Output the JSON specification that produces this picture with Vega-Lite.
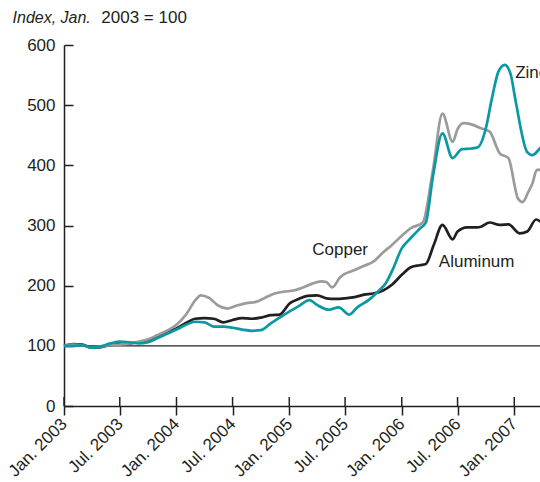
{
  "$schema": "https://vega.github.io/schema/vega-lite/v6.json",
  "width": 478,
  "height": 361,
  "autosize": "none",
  "padding": {"left": 64, "top": 45, "right": 0, "bottom": 76},
  "background": "white",
  "config": {
    "view": {"stroke": null},
    "font": "Liberation Sans",
    "axis": {"labelFont": "Liberation Sans", "labelColor": "#231f20", "labelFontSize": 17, "domainColor": "#231f20", "tickColor": "#231f20", "grid": false, "title": null, "domainWidth": 1.5, "tickWidth": 1.5}
  },
  "datasets": {
    "prices": [
      {"series": "Aluminum", "date": "2003-01-01", "value": 100},
      {"series": "Aluminum", "date": "2003-02-01", "value": 103},
      {"series": "Aluminum", "date": "2003-03-01", "value": 102},
      {"series": "Aluminum", "date": "2003-04-01", "value": 97},
      {"series": "Aluminum", "date": "2003-05-01", "value": 98},
      {"series": "Aluminum", "date": "2003-06-01", "value": 101},
      {"series": "Aluminum", "date": "2003-07-01", "value": 103},
      {"series": "Aluminum", "date": "2003-08-01", "value": 104},
      {"series": "Aluminum", "date": "2003-09-01", "value": 106},
      {"series": "Aluminum", "date": "2003-10-01", "value": 110},
      {"series": "Aluminum", "date": "2003-11-01", "value": 117},
      {"series": "Aluminum", "date": "2003-12-01", "value": 123},
      {"series": "Aluminum", "date": "2004-01-01", "value": 129},
      {"series": "Aluminum", "date": "2004-02-01", "value": 138},
      {"series": "Aluminum", "date": "2004-03-01", "value": 145},
      {"series": "Aluminum", "date": "2004-04-01", "value": 146},
      {"series": "Aluminum", "date": "2004-05-01", "value": 145},
      {"series": "Aluminum", "date": "2004-06-01", "value": 139},
      {"series": "Aluminum", "date": "2004-07-01", "value": 143},
      {"series": "Aluminum", "date": "2004-08-01", "value": 146},
      {"series": "Aluminum", "date": "2004-09-01", "value": 145},
      {"series": "Aluminum", "date": "2004-10-01", "value": 147},
      {"series": "Aluminum", "date": "2004-11-01", "value": 151},
      {"series": "Aluminum", "date": "2004-12-01", "value": 152},
      {"series": "Aluminum", "date": "2005-01-01", "value": 170},
      {"series": "Aluminum", "date": "2005-02-01", "value": 178},
      {"series": "Aluminum", "date": "2005-03-01", "value": 183},
      {"series": "Aluminum", "date": "2005-04-01", "value": 184},
      {"series": "Aluminum", "date": "2005-05-01", "value": 179},
      {"series": "Aluminum", "date": "2005-06-01", "value": 178},
      {"series": "Aluminum", "date": "2005-07-01", "value": 179},
      {"series": "Aluminum", "date": "2005-08-01", "value": 181},
      {"series": "Aluminum", "date": "2005-09-01", "value": 185},
      {"series": "Aluminum", "date": "2005-10-01", "value": 187},
      {"series": "Aluminum", "date": "2005-11-01", "value": 192},
      {"series": "Aluminum", "date": "2005-12-01", "value": 202},
      {"series": "Aluminum", "date": "2006-01-01", "value": 218},
      {"series": "Aluminum", "date": "2006-02-01", "value": 231},
      {"series": "Aluminum", "date": "2006-03-01", "value": 234},
      {"series": "Aluminum", "date": "2006-03-20", "value": 236},
      {"series": "Aluminum", "date": "2006-04-15", "value": 268},
      {"series": "Aluminum", "date": "2006-05-13", "value": 301},
      {"series": "Aluminum", "date": "2006-06-15", "value": 277},
      {"series": "Aluminum", "date": "2006-07-01", "value": 290},
      {"series": "Aluminum", "date": "2006-08-01", "value": 297},
      {"series": "Aluminum", "date": "2006-09-01", "value": 297},
      {"series": "Aluminum", "date": "2006-09-15", "value": 298},
      {"series": "Aluminum", "date": "2006-10-13", "value": 305},
      {"series": "Aluminum", "date": "2006-11-15", "value": 301},
      {"series": "Aluminum", "date": "2006-12-13", "value": 302},
      {"series": "Aluminum", "date": "2007-01-19", "value": 287},
      {"series": "Aluminum", "date": "2007-02-12", "value": 290},
      {"series": "Aluminum", "date": "2007-03-13", "value": 310},
      {"series": "Aluminum", "date": "2007-04-01", "value": 304},
      {"series": "Copper", "date": "2003-01-01", "value": 100},
      {"series": "Copper", "date": "2003-02-01", "value": 102},
      {"series": "Copper", "date": "2003-03-01", "value": 101},
      {"series": "Copper", "date": "2003-04-01", "value": 97},
      {"series": "Copper", "date": "2003-05-01", "value": 99},
      {"series": "Copper", "date": "2003-06-01", "value": 101},
      {"series": "Copper", "date": "2003-07-01", "value": 102},
      {"series": "Copper", "date": "2003-08-01", "value": 104},
      {"series": "Copper", "date": "2003-09-01", "value": 107},
      {"series": "Copper", "date": "2003-10-01", "value": 111},
      {"series": "Copper", "date": "2003-11-01", "value": 118},
      {"series": "Copper", "date": "2003-12-01", "value": 125},
      {"series": "Copper", "date": "2004-01-01", "value": 135},
      {"series": "Copper", "date": "2004-02-01", "value": 152},
      {"series": "Copper", "date": "2004-03-01", "value": 175},
      {"series": "Copper", "date": "2004-03-20", "value": 184},
      {"series": "Copper", "date": "2004-04-15", "value": 180},
      {"series": "Copper", "date": "2004-05-15", "value": 167},
      {"series": "Copper", "date": "2004-06-15", "value": 162},
      {"series": "Copper", "date": "2004-07-15", "value": 167},
      {"series": "Copper", "date": "2004-08-15", "value": 171},
      {"series": "Copper", "date": "2004-09-15", "value": 173},
      {"series": "Copper", "date": "2004-10-15", "value": 180},
      {"series": "Copper", "date": "2004-11-15", "value": 187},
      {"series": "Copper", "date": "2004-12-15", "value": 190},
      {"series": "Copper", "date": "2005-01-15", "value": 192},
      {"series": "Copper", "date": "2005-02-15", "value": 197},
      {"series": "Copper", "date": "2005-03-15", "value": 203},
      {"series": "Copper", "date": "2005-04-15", "value": 207},
      {"series": "Copper", "date": "2005-05-01", "value": 206},
      {"series": "Copper", "date": "2005-05-20", "value": 197},
      {"series": "Copper", "date": "2005-06-15", "value": 214},
      {"series": "Copper", "date": "2005-08-01", "value": 226},
      {"series": "Copper", "date": "2005-09-01", "value": 233},
      {"series": "Copper", "date": "2005-10-01", "value": 240},
      {"series": "Copper", "date": "2005-11-01", "value": 255},
      {"series": "Copper", "date": "2005-12-01", "value": 268},
      {"series": "Copper", "date": "2006-01-01", "value": 283},
      {"series": "Copper", "date": "2006-02-01", "value": 296},
      {"series": "Copper", "date": "2006-03-10", "value": 305},
      {"series": "Copper", "date": "2006-04-12", "value": 392},
      {"series": "Copper", "date": "2006-05-13", "value": 486},
      {"series": "Copper", "date": "2006-06-15", "value": 439},
      {"series": "Copper", "date": "2006-07-01", "value": 460},
      {"series": "Copper", "date": "2006-07-20", "value": 470},
      {"series": "Copper", "date": "2006-08-15", "value": 468},
      {"series": "Copper", "date": "2006-09-13", "value": 462},
      {"series": "Copper", "date": "2006-10-13", "value": 456},
      {"series": "Copper", "date": "2006-11-15", "value": 420},
      {"series": "Copper", "date": "2006-12-13", "value": 412},
      {"series": "Copper", "date": "2007-01-13", "value": 345},
      {"series": "Copper", "date": "2007-01-28", "value": 339},
      {"series": "Copper", "date": "2007-02-15", "value": 355},
      {"series": "Copper", "date": "2007-03-01", "value": 370},
      {"series": "Copper", "date": "2007-03-15", "value": 392},
      {"series": "Copper", "date": "2007-04-01", "value": 393},
      {"series": "Zinc", "date": "2003-01-01", "value": 100},
      {"series": "Zinc", "date": "2003-02-01", "value": 100},
      {"series": "Zinc", "date": "2003-03-01", "value": 101},
      {"series": "Zinc", "date": "2003-04-01", "value": 97},
      {"series": "Zinc", "date": "2003-05-01", "value": 99},
      {"series": "Zinc", "date": "2003-06-01", "value": 104},
      {"series": "Zinc", "date": "2003-07-01", "value": 107},
      {"series": "Zinc", "date": "2003-08-01", "value": 106},
      {"series": "Zinc", "date": "2003-09-01", "value": 104},
      {"series": "Zinc", "date": "2003-10-01", "value": 106},
      {"series": "Zinc", "date": "2003-11-01", "value": 113},
      {"series": "Zinc", "date": "2003-12-01", "value": 120},
      {"series": "Zinc", "date": "2004-01-01", "value": 127},
      {"series": "Zinc", "date": "2004-02-01", "value": 135},
      {"series": "Zinc", "date": "2004-03-01", "value": 140},
      {"series": "Zinc", "date": "2004-04-01", "value": 139},
      {"series": "Zinc", "date": "2004-05-01", "value": 132},
      {"series": "Zinc", "date": "2004-06-01", "value": 132},
      {"series": "Zinc", "date": "2004-07-01", "value": 130},
      {"series": "Zinc", "date": "2004-08-01", "value": 127},
      {"series": "Zinc", "date": "2004-09-01", "value": 125},
      {"series": "Zinc", "date": "2004-10-01", "value": 126},
      {"series": "Zinc", "date": "2004-11-01", "value": 137},
      {"series": "Zinc", "date": "2004-12-01", "value": 147},
      {"series": "Zinc", "date": "2005-01-01", "value": 157},
      {"series": "Zinc", "date": "2005-02-01", "value": 166},
      {"series": "Zinc", "date": "2005-03-07", "value": 176},
      {"series": "Zinc", "date": "2005-04-01", "value": 168},
      {"series": "Zinc", "date": "2005-05-10", "value": 160},
      {"series": "Zinc", "date": "2005-06-10", "value": 164},
      {"series": "Zinc", "date": "2005-07-15", "value": 152},
      {"series": "Zinc", "date": "2005-08-10", "value": 164},
      {"series": "Zinc", "date": "2005-09-15", "value": 176},
      {"series": "Zinc", "date": "2005-10-15", "value": 190},
      {"series": "Zinc", "date": "2005-11-10", "value": 204},
      {"series": "Zinc", "date": "2005-12-01", "value": 225},
      {"series": "Zinc", "date": "2006-01-01", "value": 262},
      {"series": "Zinc", "date": "2006-02-01", "value": 280},
      {"series": "Zinc", "date": "2006-03-01", "value": 295},
      {"series": "Zinc", "date": "2006-03-20", "value": 305},
      {"series": "Zinc", "date": "2006-04-12", "value": 381},
      {"series": "Zinc", "date": "2006-05-13", "value": 453},
      {"series": "Zinc", "date": "2006-06-15", "value": 412},
      {"series": "Zinc", "date": "2006-07-15", "value": 427},
      {"series": "Zinc", "date": "2006-08-15", "value": 428},
      {"series": "Zinc", "date": "2006-09-05", "value": 430},
      {"series": "Zinc", "date": "2006-10-01", "value": 462},
      {"series": "Zinc", "date": "2006-10-20", "value": 510},
      {"series": "Zinc", "date": "2006-11-10", "value": 555},
      {"series": "Zinc", "date": "2006-12-01", "value": 567},
      {"series": "Zinc", "date": "2006-12-20", "value": 552},
      {"series": "Zinc", "date": "2007-01-05", "value": 508},
      {"series": "Zinc", "date": "2007-02-12", "value": 422},
      {"series": "Zinc", "date": "2007-03-01", "value": 417},
      {"series": "Zinc", "date": "2007-03-20", "value": 425},
      {"series": "Zinc", "date": "2007-04-01", "value": 432}
    ],
    "labels": [
      {"label": "Copper", "date": "2005-06-15", "value": 259, "align": "center"},
      {"label": "Aluminum", "date": "2006-09-01", "value": 239, "align": "center"},
      {"label": "Zinc", "date": "2007-01-04", "value": 553, "align": "left"}
    ],
    "ticks": [
      {"date": "2003-01-01"}, {"date": "2003-07-01"}, {"date": "2004-01-01"}, {"date": "2004-07-01"},
      {"date": "2005-01-01"}, {"date": "2005-07-01"}, {"date": "2006-01-01"}, {"date": "2006-07-01"}, {"date": "2007-01-01"}
    ]
  },
  "layer": [
    {
      "data": {"values": [{}]},
      "mark": {"type": "rule", "color": "#231f20", "strokeWidth": 1.2},
      "encoding": {"y": {"datum": 100, "type": "quantitative"}}
    },
    {
      "data": {"name": "ticks"},
      "mark": {"type": "rule", "color": "#231f20", "strokeWidth": 1.5},
      "encoding": {
        "x": {"field": "date", "type": "temporal"},
        "y": {"datum": 0, "type": "quantitative"},
        "y2": {"datum": 15}
      }
    },
    {
      "data": {"name": "prices"},
      "mark": {"type": "line", "strokeWidth": 2.7, "interpolate": "monotone"},
      "encoding": {
        "x": {
          "field": "date", "type": "temporal",
          "scale": {"type": "utc", "domain": [{"year": 2003, "month": 1, "date": 1, "utc": true}, {"year": 2007, "month": 4, "date": 1, "utc": true}]},
          "axis": {
            "values": [
              {"year": 2003, "month": 1, "date": 1, "utc": true},
              {"year": 2003, "month": 7, "date": 1, "utc": true},
              {"year": 2004, "month": 1, "date": 1, "utc": true},
              {"year": 2004, "month": 7, "date": 1, "utc": true},
              {"year": 2005, "month": 1, "date": 1, "utc": true},
              {"year": 2005, "month": 7, "date": 1, "utc": true},
              {"year": 2006, "month": 1, "date": 1, "utc": true},
              {"year": 2006, "month": 7, "date": 1, "utc": true},
              {"year": 2007, "month": 1, "date": 1, "utc": true}
            ],
            "labelExpr": "(utcmonth(datum.value) == 0 ? 'Jan. ' : 'Jul. ') + utcyear(datum.value)",
            "labelAngle": -45,
            "labelAlign": "right",
            "labelBaseline": "middle",
            "labelOverlap": false,
            "labelBound": false,
            "tickSize": 9,
            "labelPadding": 6
          }
        },
        "y": {
          "field": "value", "type": "quantitative",
          "scale": {"domain": [0, 600], "nice": false},
          "axis": {"values": [0, 100, 200, 300, 400, 500, 600], "tickSize": -9, "labelPadding": 18}
        },
        "color": {
          "field": "series", "type": "nominal",
          "scale": {"domain": ["Aluminum", "Copper", "Zinc"], "range": ["#231f20", "#9b9b9b", "#0b98a3"]},
          "legend": null
        },
        "detail": {"field": "series"}
      }
    },
    {
      "data": {"name": "labels"},
      "transform": [{"filter": "datum.align == 'center'"}],
      "mark": {"type": "text", "fontSize": 17, "color": "#231f20", "align": "center", "baseline": "middle"},
      "encoding": {
        "x": {"field": "date", "type": "temporal"},
        "y": {"field": "value", "type": "quantitative"},
        "text": {"field": "label"}
      }
    },
    {
      "data": {"name": "labels"},
      "transform": [{"filter": "datum.align == 'left'"}],
      "mark": {"type": "text", "fontSize": 17, "color": "#231f20", "align": "left", "baseline": "middle"},
      "encoding": {
        "x": {"field": "date", "type": "temporal"},
        "y": {"field": "value", "type": "quantitative"},
        "text": {"field": "label"}
      }
    },
    {
      "data": {"values": [{}]},
      "mark": {"type": "text", "fontSize": 16, "fontStyle": "italic", "color": "#231f20", "align": "left", "baseline": "alphabetic", "text": "Index, Jan."},
      "encoding": {
        "x": {"datum": {"year": 2002, "month": 7, "date": 18, "utc": true}, "type": "temporal"},
        "y": {"datum": 637, "type": "quantitative"}
      }
    },
    {
      "data": {"values": [{}]},
      "mark": {"type": "text", "fontSize": 17, "color": "#231f20", "align": "left", "baseline": "alphabetic", "text": "2003 = 100"},
      "encoding": {
        "x": {"datum": {"year": 2003, "month": 5, "date": 2, "utc": true}, "type": "temporal"},
        "y": {"datum": 637, "type": "quantitative"}
      }
    }
  ]
}
